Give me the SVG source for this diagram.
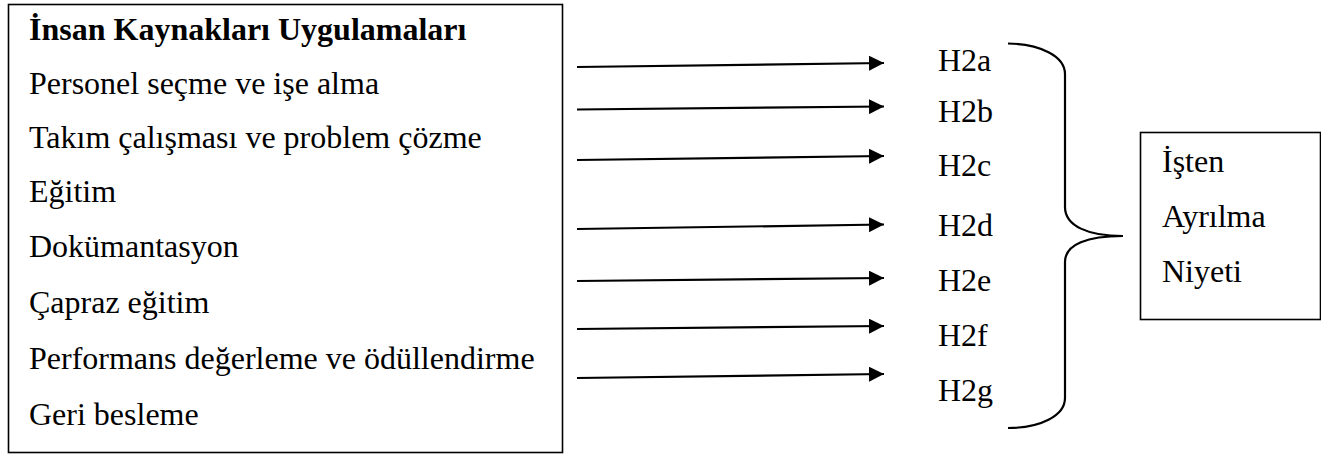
<svg xmlns="http://www.w3.org/2000/svg" width="1321" height="455" viewBox="0 0 1321 455">
  <style>
    .t { font-family: "Liberation Serif", "Times New Roman", serif; font-size: 32px; fill: #000; }
    .b { font-weight: bold; }
    .box { fill: #fff; stroke: #000; stroke-width: 1.6; }
    .conn { stroke: #000; stroke-width: 2.2; fill: none; }
    .brace { stroke: #000; stroke-width: 2.2; fill: none; }
  </style>
  <defs>
    <marker id="ah" markerWidth="15" markerHeight="15" viewBox="0 0 15 15" refX="15" refY="7.5" markerUnits="userSpaceOnUse" orient="auto">
      <path d="M0,0 L15,7.5 L0,15 Z" fill="#000"/>
    </marker>
  </defs>
  <rect width="1321" height="455" fill="#fff"/>

  <g id="hr-practices">
    <rect class="box" x="8.5" y="4.5" width="554" height="448"/>
    <text class="t b" x="29" y="40">İnsan Kaynakları Uygulamaları</text>
    <text class="t" x="29" y="94">Personel seçme ve işe alma</text>
    <text class="t" x="29" y="148">Takım çalışması ve problem çözme</text>
    <text class="t" x="29" y="202">Eğitim</text>
    <text class="t" x="29" y="257">Dokümantasyon</text>
    <text class="t" x="29" y="313">Çapraz eğitim</text>
    <text class="t" x="29" y="369">Performans değerleme ve ödüllendirme</text>
    <text class="t" x="29" y="425">Geri besleme</text>
  </g>

  <g id="hypotheses">
    <text class="t" x="938" y="71">H2a</text>
    <text class="t" x="938" y="122">H2b</text>
    <text class="t" x="938" y="176">H2c</text>
    <text class="t" x="938" y="236">H2d</text>
    <text class="t" x="938" y="291">H2e</text>
    <text class="t" x="938" y="346">H2f</text>
    <text class="t" x="938" y="401">H2g</text>
  </g>

  <g id="intention">
    <rect class="box" x="1140.5" y="132.5" width="180" height="187"/>
    <text class="t" x="1162" y="172">İşten</text>
    <text class="t" x="1162" y="227">Ayrılma</text>
    <text class="t" x="1162" y="282">Niyeti</text>
  </g>

  <g id="connectors">
    <line class="conn" x1="577" y1="67" x2="884" y2="63" marker-end="url(#ah)"/>
    <line class="conn" x1="577" y1="109.5" x2="884" y2="106.5" marker-end="url(#ah)"/>
    <line class="conn" x1="577" y1="160" x2="884" y2="156" marker-end="url(#ah)"/>
    <line class="conn" x1="577" y1="229" x2="884" y2="224.5" marker-end="url(#ah)"/>
    <line class="conn" x1="577" y1="281" x2="884" y2="278" marker-end="url(#ah)"/>
    <line class="conn" x1="577" y1="329" x2="884" y2="326" marker-end="url(#ah)"/>
    <line class="conn" x1="577" y1="378" x2="884" y2="374" marker-end="url(#ah)"/>
    <path class="brace" d="M1008,43.5 C1040,44 1065,56 1065,74 L1065,207 C1065,226 1088,236 1123,236 C1088,236 1065,244 1065,262 L1065,398 C1065,416 1040,428 1008,428"/>
  </g>
</svg>
